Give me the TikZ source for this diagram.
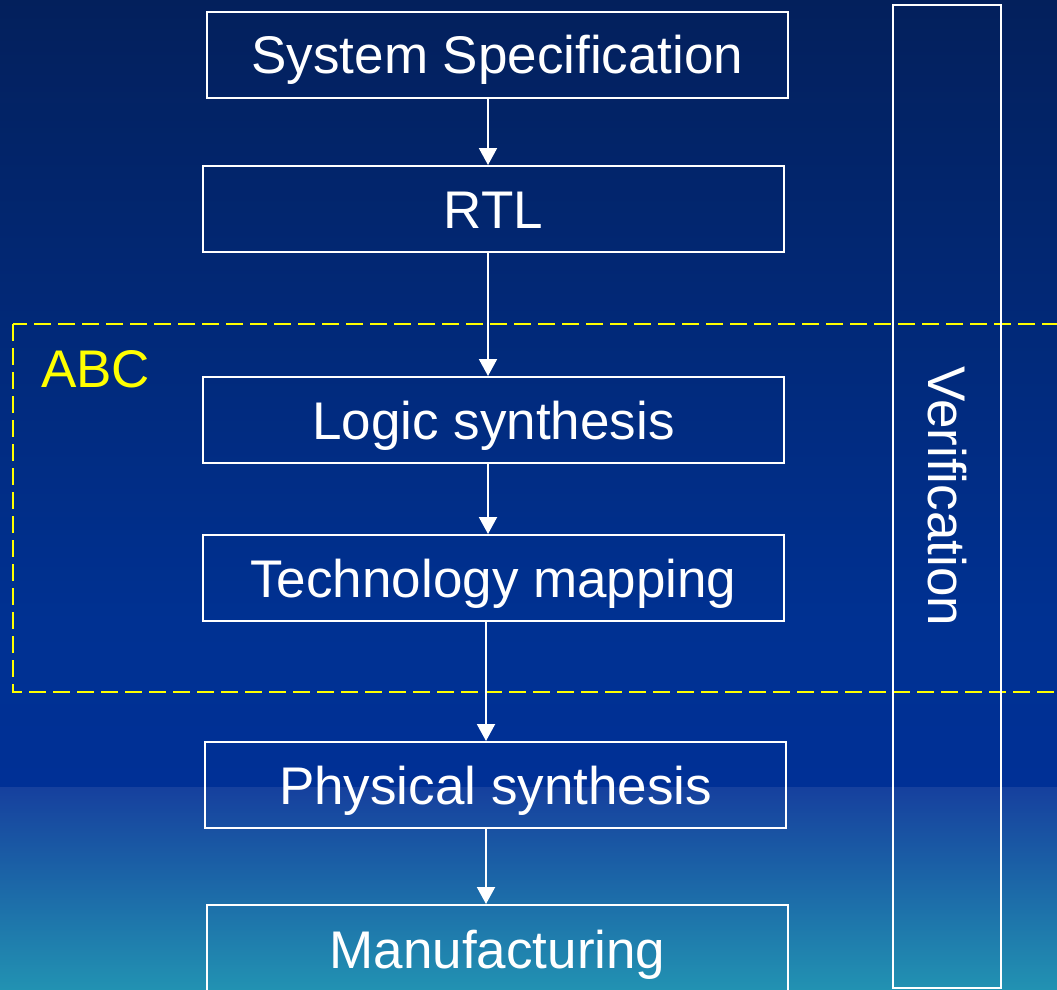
\documentclass[tikz,border=0pt]{standalone}
\usepackage{fontspec}
\setmainfont{Liberation Sans}
\usetikzlibrary{arrows.meta}
\definecolor{bgA}{RGB}{3,32,92}
\definecolor{bgB}{RGB}{0,49,146}
\definecolor{bgC}{RGB}{0,48,150}
\definecolor{bgD}{RGB}{22,64,158}
\definecolor{bgE}{RGB}{34,146,178}
\definecolor{abcyellow}{RGB}{255,255,0}
\tikzset{
  stage/.style={draw=white, line width=2pt, rectangle, inner sep=0pt,
    minimum width=581pt, minimum height=86pt, text=white,
    text height=38pt, text depth=0pt,
    font=\fontsize{53}{60}\selectfont},
  flow/.style={draw=white, line width=2pt, -{Triangle[width=18pt,length=17pt]}},
  regionbox/.style={draw=abcyellow, line width=2pt, dash pattern=on 17pt off 7pt},
}
\begin{document}
\begin{tikzpicture}[x=1pt,y=-1pt]
\useasboundingbox (0,0) rectangle (1057,990);
\clip (0,0) rectangle (1057,990);
% background gradient
\shade[top color=bgA, bottom color=bgB] (0,0) rectangle (1057,621);
\shade[top color=bgB, bottom color=bgC] (0,620) rectangle (1057,788);
\shade[top color=bgD, bottom color=bgE] (0,787) rectangle (1057,990);
% ABC region
\draw[regionbox] (13,324) rectangle (1080,692);
\node[anchor=base west, text=abcyellow, inner sep=0pt, font=\fontsize{53}{60}\selectfont] (abc) at (41,387) {ABC};
% stages
\node[stage] (ss) at (497.5,55) {System Specification};
\node[stage] (rtl) at (493.5,209) {RTL};
\node[stage] (ls) at (493.5,420) {Logic synthesis};
\node[stage] (tm) at (493.5,578) {Technology mapping};
\node[stage] (ps) at (495.5,785) {Physical synthesis};
\node[stage, minimum height=88pt] (mf) at (497.5,949) {Manufacturing};
% verification
\node[draw=white, line width=2.5pt, rotate=-90, inner sep=0pt, minimum width=983pt,
  minimum height=108pt, text=white, text height=38pt, text depth=0pt,
  font=\fontsize{53}{60}\selectfont] (ver) at (947,496.5) {Verification};
% arrows
\draw[flow] ([xshift=-9.5pt]ss.south) -- ([xshift=-5.5pt]rtl.north);
\draw[flow] ([xshift=-5.5pt]rtl.south) -- ([xshift=-5.5pt]ls.north);
\draw[flow] ([xshift=-5.5pt]ls.south) -- ([xshift=-5.5pt]tm.north);
\draw[flow] ([xshift=-7.5pt]tm.south) -- ([xshift=-9.5pt]ps.north);
\draw[flow] ([xshift=-9.5pt]ps.south) -- ([xshift=-11.5pt]mf.north);
\end{tikzpicture}
\end{document}
